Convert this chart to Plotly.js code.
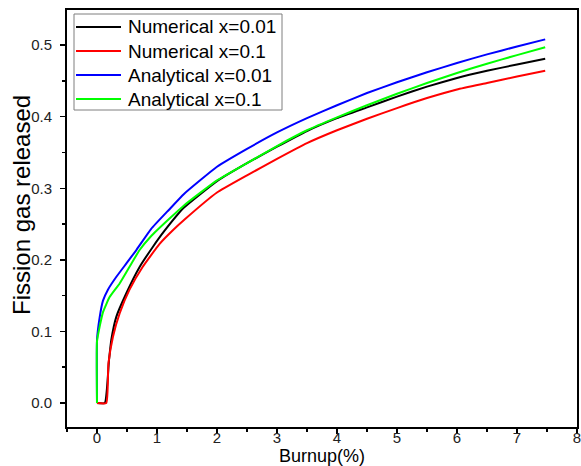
<!DOCTYPE html>
<html>
<head>
<meta charset="utf-8">
<script src="https://cdn.plot.ly/plotly-3.0.1.min.js"></script>
<style>
html,body{margin:0;padding:0;background:#fff;}
#chart{width:581px;height:466px;}
</style>
</head>
<body>
<div id="chart"></div>
<script>
// Numerical x=0.01 (black)
const numX001 = [0, 0.13, 0.2, 0.238, 0.32, 0.487, 0.71, 0.93, 1.12, 1.45, 2.0, 2.5, 3.0, 3.5, 4.0, 4.5, 5.0, 5.5, 6.0, 6.5, 7.0, 7.47];
const numY001 = [0, 0, 0.06, 0.088, 0.12, 0.153, 0.19, 0.218, 0.24, 0.273, 0.310, 0.335, 0.358, 0.380, 0.398, 0.413, 0.428, 0.442, 0.454, 0.464, 0.473, 0.481];
// Numerical x=0.1 (red)
const numX01 = [0, 0.155, 0.19, 0.266, 0.377, 0.54, 0.76, 1.04, 1.26, 1.45, 2.0, 2.5, 3.0, 3.5, 4.0, 4.5, 5.0, 5.5, 6.0, 6.5, 7.0, 7.47];
const numY01 = [0, 0, 0.055, 0.0926, 0.125, 0.158, 0.19, 0.222, 0.241, 0.2556, 0.294, 0.318, 0.341, 0.363, 0.381, 0.397, 0.412, 0.426, 0.438, 0.447, 0.456, 0.464];
// Analytical x=0.01 (blue)
const anaX001 = [0, 0, 0.045, 0.1, 0.18, 0.32, 0.49, 0.65, 0.9, 1.2, 1.45, 2.0, 2.5, 3.0, 3.5, 4.0, 4.5, 5.0, 5.5, 6.0, 6.5, 7.0, 7.47];
const anaY001 = [0, 0.088, 0.12, 0.143, 0.158, 0.176, 0.195, 0.213, 0.243, 0.270, 0.292, 0.330, 0.355, 0.378, 0.398, 0.416, 0.433, 0.448, 0.462, 0.475, 0.487, 0.498, 0.508];
// Analytical x=0.1 (green)
const anaX01 = [0, 0, 0.045, 0.1, 0.21, 0.377, 0.54, 0.71, 0.9, 1.2, 1.45, 2.0, 2.5, 3.0, 3.5, 4.0, 4.5, 5.0, 5.5, 6.0, 6.5, 7.0, 7.47];
const anaY01 = [0, 0.086, 0.107, 0.127, 0.148, 0.167, 0.190, 0.2137, 0.233, 0.257, 0.276, 0.311, 0.335, 0.359, 0.381, 0.399, 0.416, 0.432, 0.447, 0.461, 0.474, 0.486, 0.497];

const seriesNames = ["Numerical x=0.01", "Numerical x=0.1", "Analytical x=0.01", "Analytical x=0.1"];
const xTitle = "Burnup(%)";
const yTitle = "Fission gas released";

const colors = ["#000000", "#ff0000", "#0000ff", "#00ff00"];
const xs = [numX001, numX01, anaX001, anaX01];
const ys = [numY001, numY01, anaY001, anaY01];

const traces = seriesNames.map((n, i) => ({
  type: "scatter", mode: "lines", name: n,
  x: xs[i], y: ys[i], showlegend: false,
  line: {color: colors[i], width: 2, shape: "spline", smoothing: 0.4}
}));

const font = "Liberation Sans, Arial, sans-serif";
const W = 581, H = 466;
const mL = 67, mR = 4, mT = 10, mB = 39;
const pw = W - mL - mR, ph = H - mT - mB;
const px2x = p => (p - mL) / pw;
const py2y = p => (H - mB - p) / ph;

// manual legend (box, line samples, real text labels)
const shapes = [{
  type: "rect", xref: "paper", yref: "paper",
  x0: px2x(74), x1: px2x(282), y0: py2y(110), y1: py2y(14),
  line: {color: "#7f7f7f", width: 1}, fillcolor: "#fff", layer: "above"
}];
const annotations = [];
const rowY = [27, 51, 75, 99];
seriesNames.forEach((n, i) => {
  shapes.push({
    type: "line", xref: "paper", yref: "paper",
    x0: px2x(76), x1: px2x(121), y0: py2y(rowY[i]), y1: py2y(rowY[i]),
    line: {color: colors[i], width: 2}, layer: "above"
  });
  annotations.push({
    text: n, xref: "paper", yref: "paper",
    x: px2x(126), y: py2y(rowY[i]), xanchor: "left", yanchor: "middle",
    showarrow: false, font: {family: font, size: 19, color: "#000"}
  });
});
annotations.push({
  text: yTitle, xref: "paper", yref: "paper",
  x: px2x(21), y: py2y(205), xanchor: "center", yanchor: "middle",
  textangle: -90, showarrow: false,
  font: {family: font, size: 24, color: "#000"}
});

const layout = {
  width: W, height: H,
  margin: {l: mL, r: mR, t: mT, b: mB},
  paper_bgcolor: "#fff", plot_bgcolor: "#fff",
  showlegend: false,
  xaxis: {
    range: [-0.5, 8], dtick: 1, tick0: 0,
    showgrid: false, zeroline: false,
    showline: true, mirror: true, linecolor: "#000", linewidth: 2,
    ticks: "outside", ticklen: 5, tickwidth: 1.5, tickcolor: "#000",
    minor: {dtick: 0.5, tick0: 0, ticks: "outside", ticklen: 3, tickwidth: 1.5, tickcolor: "#000", showgrid: false},
    tickfont: {family: font, size: 15, color: "#222"},
    ticklabeloverflow: "allow", ticklabelstandoff: -9,
    title: {text: xTitle, font: {family: font, size: 18, color: "#000"}, standoff: 10},
    automargin: false
  },
  yaxis: {
    range: [-0.0335, 0.549], dtick: 0.1, tick0: 0, tickformat: ".1f",
    showgrid: false, zeroline: false,
    showline: true, mirror: true, linecolor: "#000", linewidth: 2,
    ticks: "outside", ticklen: 5, tickwidth: 1.5, tickcolor: "#000",
    minor: {dtick: 0.05, tick0: 0, ticks: "outside", ticklen: 3, tickwidth: 1.5, tickcolor: "#000", showgrid: false},
    tickfont: {family: font, size: 15, color: "#222"},
    ticklabelstandoff: 5,
    automargin: false
  },
  shapes: shapes,
  annotations: annotations
};

Plotly.newPlot("chart", traces, layout, {displayModeBar: false, staticPlot: true});
</script>
</body>
</html>
